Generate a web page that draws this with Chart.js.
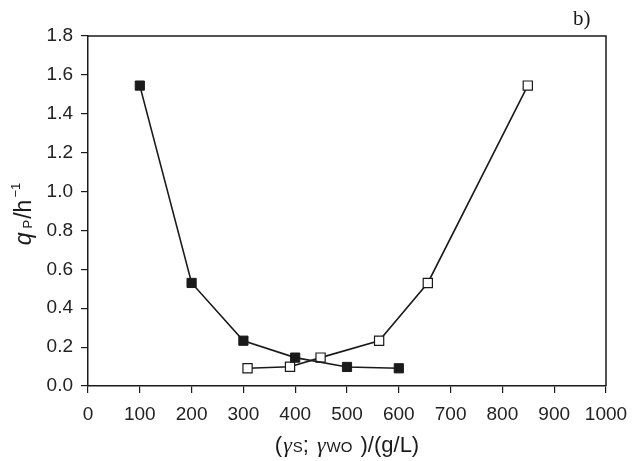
<!DOCTYPE html>
<html>
<head>
<meta charset="utf-8">
<script src="https://cdn.jsdelivr.net/npm/chart.js@4/dist/chart.umd.min.js"></script>
<style>
  html, body { margin: 0; padding: 0; background: #fff; }
  #c { display: block; }
</style>
</head>
<body>
<canvas id="c" width="640" height="461"></canvas>
<script>
// filled squares: gamma S
const xFilled = [100, 200, 300, 400, 500, 600];
const yFilled = [1.545, 0.53, 0.233, 0.146, 0.098, 0.091];
// open squares: gamma WO
const xOpen = [308, 390, 449, 562, 656, 849];
const yOpen = [0.091, 0.099, 0.146, 0.233, 0.53, 1.545];

const xTicks = [0, 100, 200, 300, 400, 500, 600, 700, 800, 900, 1000];
const yTicks = [0, 0.2, 0.4, 0.6, 0.8, 1.0, 1.2, 1.4, 1.6, 1.8];

const ink = '#1a1a1a';
const sans = "'Liberation Sans', Arial, sans-serif";
const serif = "'Liberation Serif', 'Times New Roman', serif";

function toPoints(xs, ys) {
  return xs.map((x, i) => ({ x: x, y: ys[i] }));
}

// draws a run of text pieces with different fonts, centred on (x, y)
// gap = extra advance after the piece
function drawRich(ctx, parts, x, y, angle) {
  ctx.save();
  ctx.translate(x, y);
  ctx.rotate(angle);
  ctx.textBaseline = 'alphabetic';
  ctx.textAlign = 'left';
  let total = 0;
  parts.forEach(p => { ctx.font = p.font; total += ctx.measureText(p.text).width + (p.gap || 0); });
  let cx = -total / 2;
  parts.forEach(p => {
    ctx.font = p.font;
    ctx.fillText(p.text, cx, p.dy || 0);
    cx += ctx.measureText(p.text).width + (p.gap || 0);
  });
  ctx.restore();
}

const extras = {
  id: 'extras',
  afterDraw(chart) {
    const ctx = chart.ctx;
    const a = chart.chartArea;
    ctx.save();
    ctx.strokeStyle = ink;
    ctx.lineWidth = 1.5;
    ctx.beginPath();
    ctx.moveTo(a.left, a.top);
    ctx.lineTo(a.right, a.top);
    ctx.lineTo(a.right, a.bottom);
    ctx.stroke();

    ctx.fillStyle = ink;
    // y title
    drawRich(ctx, [
      { text: 'q', font: 'italic 23px ' + sans, gap: 4 },
      { text: 'P', font: '13px ' + sans, dy: 1, gap: 1 },
      { text: '/h', font: '23px ' + sans, gap: 2 },
      { text: '−1', font: '13px ' + sans, dy: -11 }
    ], 31, 214, -Math.PI / 2);

    // x title
    drawRich(ctx, [
      { text: '(', font: '22px ' + sans, gap: 1 },
      { text: 'γ', font: 'italic 22px ' + serif, gap: 1 },
      { text: 'S', font: '15px ' + sans },
      { text: ';', font: '22px ' + sans, gap: 8 },
      { text: 'γ', font: 'italic 22px ' + serif, gap: 1 },
      { text: 'WO', font: '15px ' + sans, gap: 2 },
      { text: ' )/(g/L)', font: '22px ' + sans }
    ], (a.left + a.right) / 2, 452, 0);

    ctx.font = '21px ' + serif;
    ctx.textAlign = 'left';
    ctx.textBaseline = 'alphabetic';
    ctx.fillText('b)', 573, 25);
    ctx.restore();
  }
};

const data = {
  datasets: [
    {
      label: 'γS',
      data: toPoints(xFilled, yFilled),
      borderColor: ink,
      borderWidth: 1.6,
      pointStyle: 'rect',
      pointRadius: 6.5,
      pointBackgroundColor: ink,
      pointBorderColor: ink,
      pointBorderWidth: 1,
      showLine: true,
      tension: 0
    },
    {
      label: 'γWO',
      data: toPoints(xOpen, yOpen),
      borderColor: ink,
      borderWidth: 1.6,
      pointStyle: 'rect',
      pointRadius: 6.5,
      pointBackgroundColor: '#fff',
      pointBorderColor: ink,
      pointBorderWidth: 1.2,
      showLine: true,
      tension: 0
    }
  ]
};

const config = {
  type: 'scatter',
  data: data,
  options: {
    responsive: false,
    animation: false,
    layout: { padding: { top: 36, right: 34, left: 0, bottom: 0 } },
    plugins: {
      legend: { display: false },
      tooltip: { enabled: false }
    },
    scales: {
      x: {
        type: 'linear',
        min: 0,
        max: 1000,
        afterFit: s => { s.height = 75; },
        afterBuildTicks: s => { s.ticks = xTicks.map(v => ({ value: v })); },
        grid: { drawOnChartArea: false, drawTicks: true, tickLength: 7, color: ink, lineWidth: 1.2 },
        border: { display: true, color: ink, width: 1.5 },
        ticks: {
          color: '#222',
          font: { family: sans, size: 19 },
          padding: 10,
          maxRotation: 0,
          callback: v => String(v)
        }
      },
      y: {
        type: 'linear',
        min: 0,
        max: 1.8,
        afterFit: s => { s.width = 88; },
        afterBuildTicks: s => { s.ticks = yTicks.map(v => ({ value: v })); },
        grid: { drawOnChartArea: false, drawTicks: true, tickLength: 7, color: ink, lineWidth: 1.2 },
        border: { display: true, color: ink, width: 1.5 },
        ticks: {
          color: '#222',
          font: { family: sans, size: 19 },
          padding: 8,
          callback: v => Number(v).toFixed(1)
        }
      }
    }
  },
  plugins: [extras]
};

var myChart = new Chart(document.getElementById('c'), config);
</script>
</body>
</html>
